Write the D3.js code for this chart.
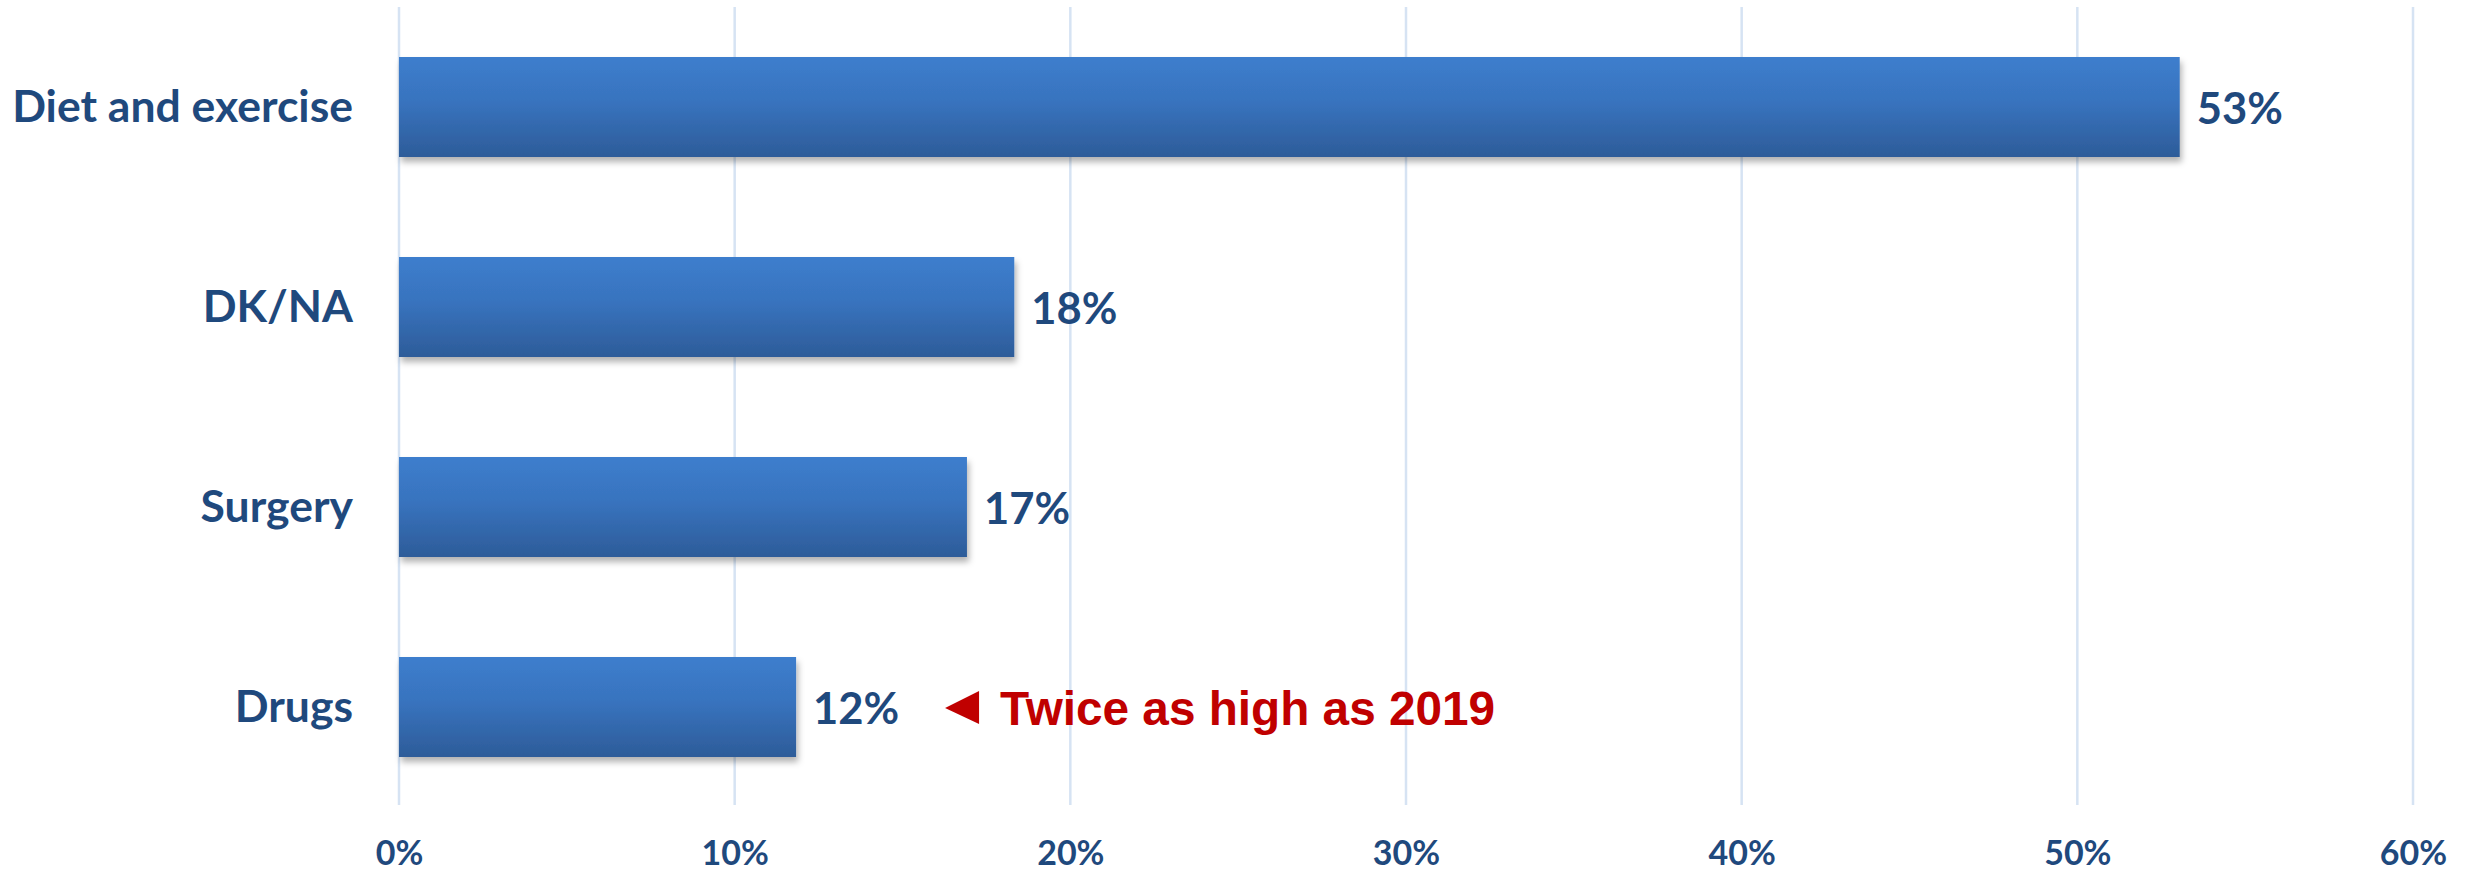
<!DOCTYPE html>
<html>
<head>
<meta charset="utf-8">
<script src="https://cdn.jsdelivr.net/npm/d3@7"></script>
<style>
  html, body { margin: 0; padding: 0; background: #ffffff; }
  svg { display: block; }
</style>
</head>
<body>
<svg id="chart" width="2469" height="871"></svg>
<script>
// ---- data ----
const categories = ["Diet and exercise", "DK/NA", "Surgery", "Drugs"];
const values = [0.5305, 0.1833, 0.1692, 0.1183];
const tickValues = [0, 0.1, 0.2, 0.3, 0.4, 0.5, 0.6];
const annotationCategory = "Drugs";
const annotationText = "Twice as high as 2019";

// ---- setup ----
const svg = d3.select("#chart");
const textColor = "#1F497D";
const labelFont = "Lato, 'Open Sans', sans-serif";

const x = d3.scaleLinear().domain([0, 0.6]).range([399, 2413]);
const y = d3.scaleBand().domain(categories).range([7, 807])
  .paddingInner(0.5).paddingOuter(0.25);
const fmt = d3.format(".0%");

const defs = svg.append("defs");
const grad = defs.append("linearGradient").attr("id", "barGrad")
  .attr("x1", 0).attr("y1", 0).attr("x2", 0).attr("y2", 1);
grad.append("stop").attr("offset", "0%").attr("stop-color", "#3D7ECD");
grad.append("stop").attr("offset", "45%").attr("stop-color", "#3873BE");
grad.append("stop").attr("offset", "100%").attr("stop-color", "#2D5C99");

const filt = defs.append("filter").attr("id", "shadow")
  .attr("x", "-5%").attr("y", "-20%").attr("width", "115%").attr("height", "160%");
filt.append("feDropShadow").attr("dx", 2).attr("dy", 5)
  .attr("stdDeviation", 3).attr("flood-color", "#000").attr("flood-opacity", 0.3);

// gridlines
svg.append("g").selectAll("line").data(tickValues).join("line")
  .attr("x1", d => x(d)).attr("x2", d => x(d))
  .attr("y1", 7).attr("y2", 805)
  .attr("stroke", "#D6E3F3").attr("stroke-width", 2.5);

// x axis labels
const xAxis = d3.axisBottom(x).tickValues(tickValues).tickFormat(fmt)
  .tickSize(0).tickPadding(34);
const gx = svg.append("g").attr("transform", "translate(0,807)").call(xAxis);
gx.select(".domain").remove();
gx.selectAll("text")
  .attr("fill", textColor)
  .style("font-family", labelFont)
  .style("font-weight", "bold")
  .style("font-size", "34px");

// bars
svg.append("g").selectAll("rect").data(categories).join("rect")
  .attr("x", x(0))
  .attr("y", d => y(d))
  .attr("width", (d, i) => x(values[i]) - x(0))
  .attr("height", y.bandwidth())
  .attr("fill", "url(#barGrad)")
  .attr("filter", "url(#shadow)");

// category labels
svg.append("g").selectAll("text").data(categories).join("text")
  .attr("x", 353)
  .attr("y", d => y(d) + y.bandwidth() / 2 + 15)
  .attr("text-anchor", "end")
  .attr("fill", textColor)
  .style("font-family", labelFont)
  .style("font-weight", "bold")
  .style("font-size", "44.5px")
  .text(d => d);

// value labels
svg.append("g").selectAll("text").data(categories).join("text")
  .attr("x", (d, i) => x(values[i]) + 17)
  .attr("y", d => y(d) + y.bandwidth() / 2 + 16.5)
  .attr("fill", textColor)
  .style("font-family", labelFont)
  .style("font-weight", "bold")
  .style("font-size", "43.5px")
  .text((d, i) => fmt(values[i]));

// annotation
const ai = categories.indexOf(annotationCategory);
const cy = y(annotationCategory) + y.bandwidth() / 2;
const triX = x(values[ai]) + 149;
svg.append("path")
  .attr("d", `M${triX},${cy + 1} L${triX + 34},${cy - 16} L${triX + 34},${cy + 17} Z`)
  .attr("fill", "#C00000");
svg.append("text")
  .attr("x", triX + 55)
  .attr("y", cy + 17.5)
  .attr("fill", "#C00000")
  .style("font-family", "'Liberation Sans', Arial, sans-serif")
  .style("font-weight", "bold")
  .style("font-size", "48px")
  .attr("textLength", 495)
  .attr("lengthAdjust", "spacingAndGlyphs")
  .text(annotationText);
</script>
</body>
</html>
